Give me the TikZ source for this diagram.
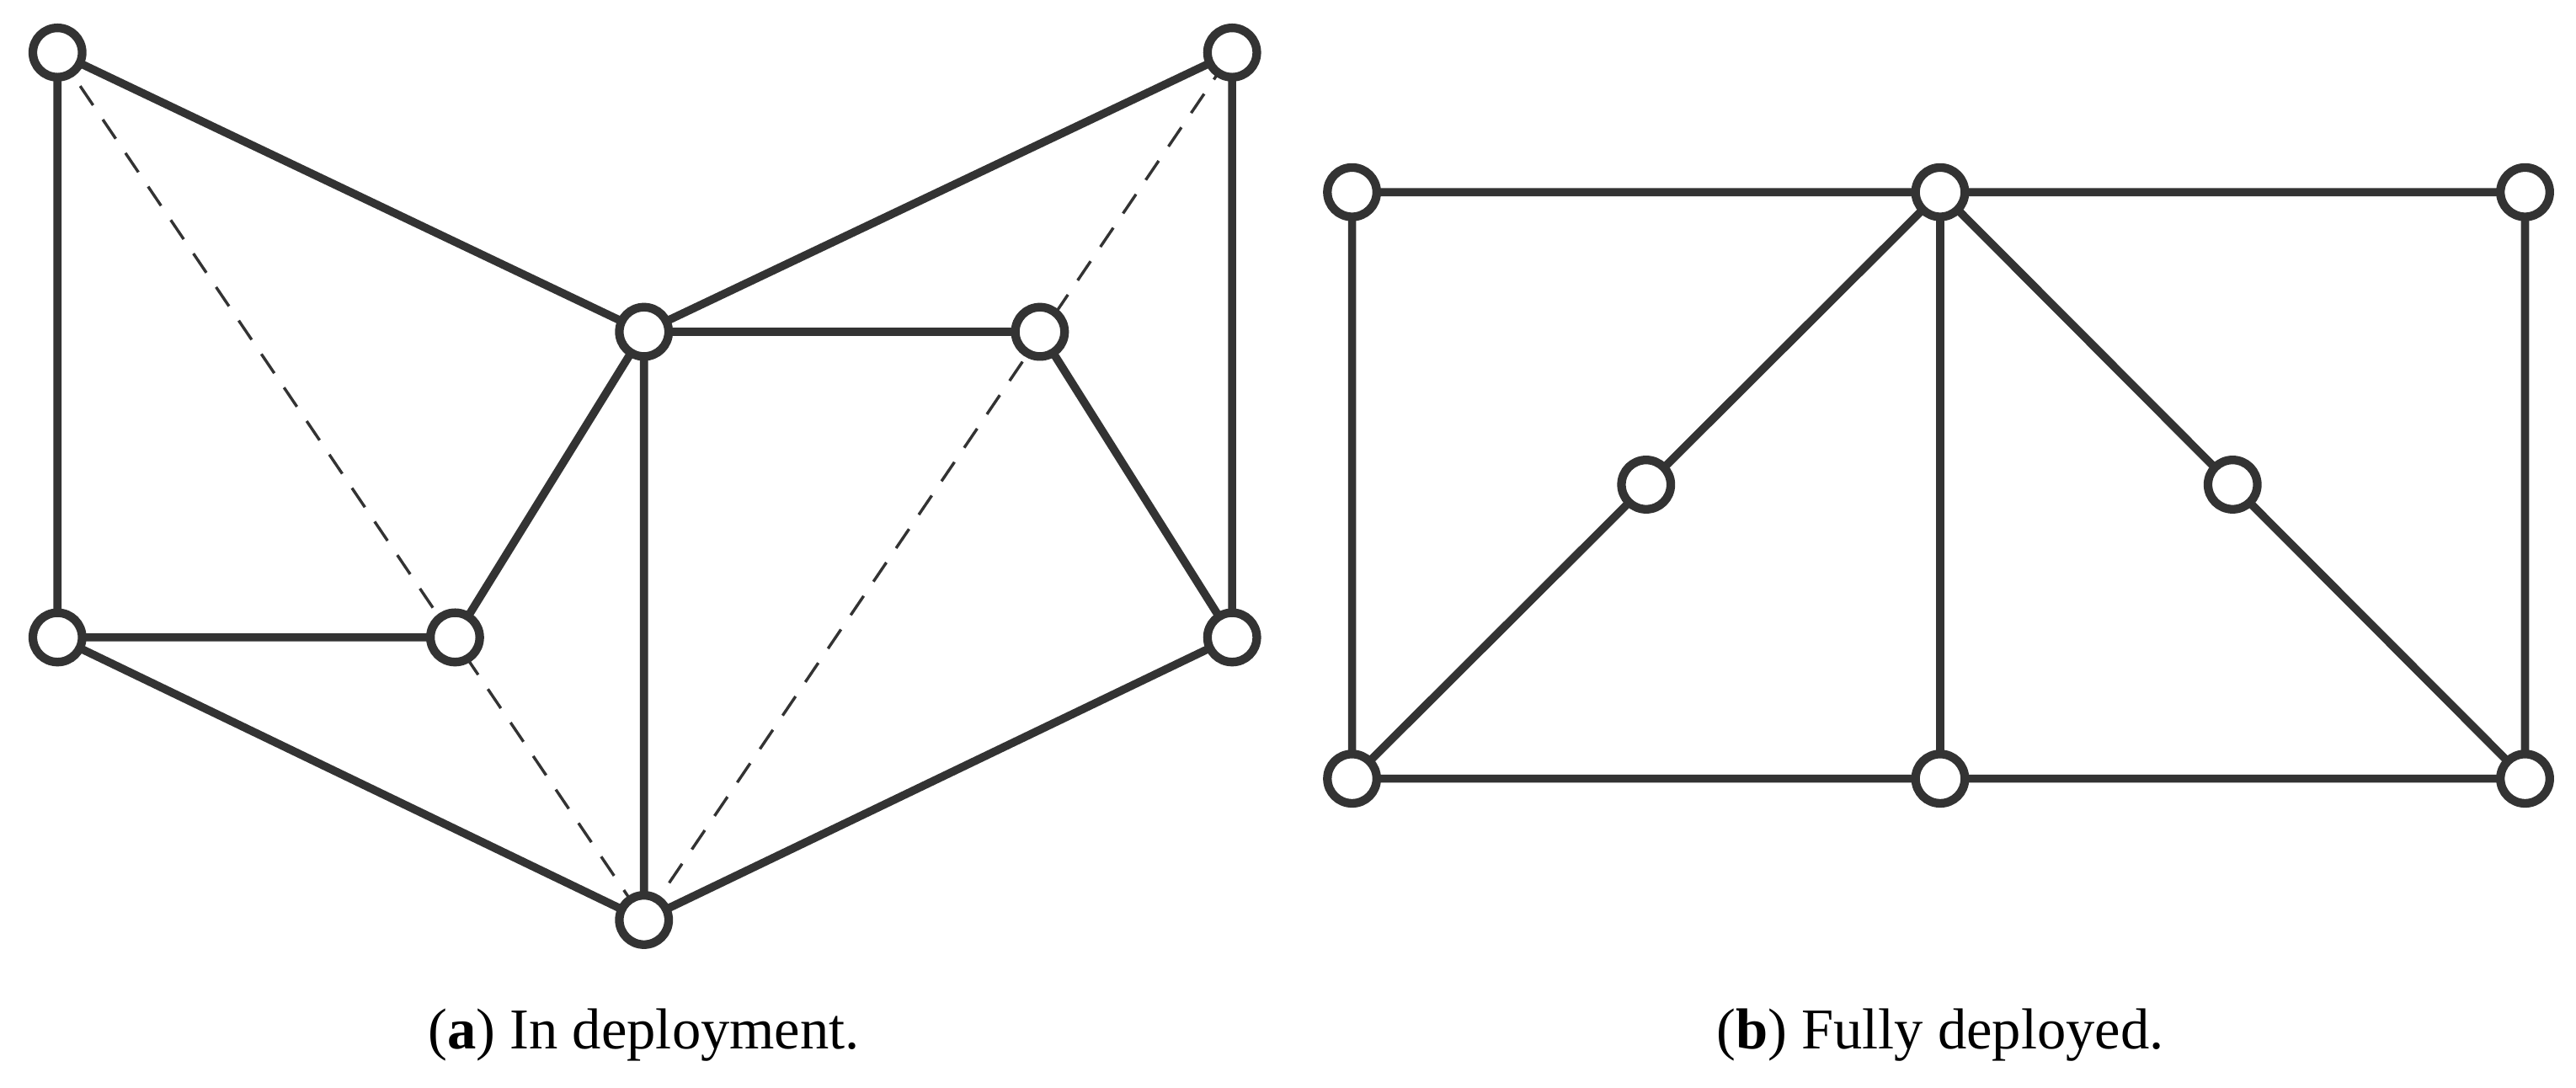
\documentclass[tikz,border=0pt]{standalone}
\usepackage{fontspec}
\setmainfont{Liberation Serif}
\begin{document}
\begin{tikzpicture}[x=0.01cm,y=-0.01cm,
  jt/.style={circle,draw=black!80,fill=white,line width=1.5pt,minimum size=0.3cm,inner sep=0pt},
  bar/.style={draw=black!80,line width=1.4pt},
  dsh/.style={draw=black!80,line width=0.5pt,dash pattern=on 4pt off 3pt},
  captxt/.style={font=\fontsize{10}{12}\selectfont}]
\useasboundingbox (0,0) rectangle (1568,662);
\coordinate (a) at (35,32); \coordinate (b) at (750,32);
\coordinate (c) at (392,202); \coordinate (d) at (633,202);
\coordinate (e) at (35,388); \coordinate (f) at (277,388);
\coordinate (g) at (750,388); \coordinate (h) at (392,560);
\draw[dsh] (a) -- (h) -- (b);
\draw[bar] (a)--(e) (a)--(c) (b)--(c) (b)--(g) (c)--(d) (c)--(f) (c)--(h) (d)--(g) (e)--(f) (e)--(h) (h)--(g);
\foreach \n in {a,b,c,d,e,f,g,h} \node[jt] (n\n) at (\n) {};
\coordinate (p1) at (823,117); \coordinate (p2) at (1181,117); \coordinate (p3) at (1537,117);
\coordinate (q1) at (1002,295); \coordinate (q2) at (1359,295);
\coordinate (r1) at (823,474); \coordinate (r2) at (1181,474); \coordinate (r3) at (1537,474);
\draw[bar] (p1)--(p3) (p1)--(r1) (p3)--(r3) (r1)--(r3) (p2)--(r2) (r1)--(p2) (p2)--(r3);
\foreach \n in {p1,p2,p3,q1,q2,r1,r2,r3} \node[jt] (n\n) at (\n) {};
\node[captxt] (ca) at (392,630) {(\textbf{a}) In deployment.};
\node[captxt] (cb) at (1181,630) {(\textbf{b}) Fully deployed.};
\end{tikzpicture}
\end{document}
